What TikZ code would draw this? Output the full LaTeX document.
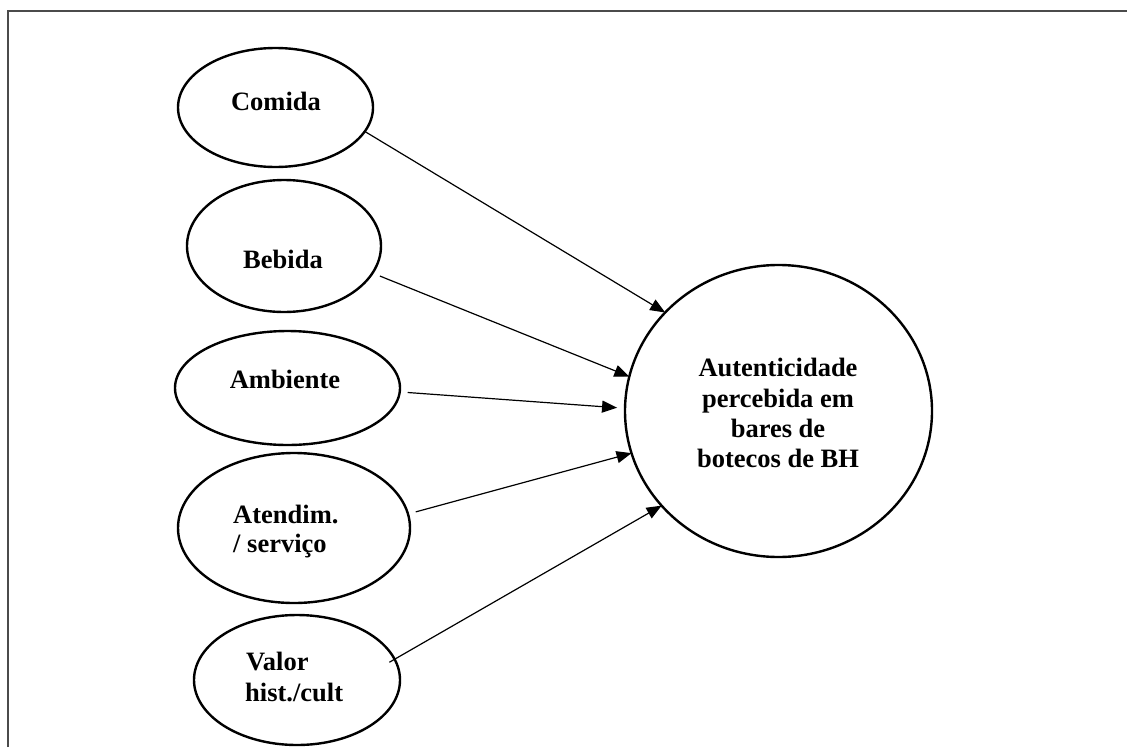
\documentclass[tikz,border=0pt]{standalone}
\usepackage{fontspec}
\setmainfont{Liberation Serif}
\usetikzlibrary{shapes.geometric,arrows.meta}
\begin{document}
\begin{tikzpicture}[x=1pt,y=-1pt,
  oval/.style={ellipse,draw,line width=2.4pt,inner sep=0pt,outer sep=0pt},
  lbl/.style={font=\fontsize{26.5}{30}\selectfont\bfseries,inner sep=0pt,anchor=base},
  lbll/.style={lbl,anchor=base west},
  arr/.style={line width=1.2pt,-{Triangle[length=15pt,width=12pt]}},
  framestyle/.style={line width=2pt,draw={rgb,255:red,75;green,75;blue,75}}]
\useasboundingbox (0,0) rectangle (1127,747);
\draw[framestyle] (8,747) -- (8,11) -- (1127,11);

% ellipses
\node[oval,minimum width=195pt,minimum height=119pt] (comida) at (275.5,107.5) {};
\node[oval,minimum width=194pt,minimum height=132pt] (bebida) at (284,246) {};
\node[oval,minimum width=225pt,minimum height=114pt] (ambiente) at (287.5,388) {};
\node[oval,minimum width=232pt,minimum height=150pt] (atend) at (294,528) {};
\node[oval,minimum width=206pt,minimum height=130pt] (valor) at (297,680) {};
\node[oval,minimum width=307pt,minimum height=292pt] (target) at (778.5,411) {};

% labels
\node[lbl] (comidaT) at (276,110) {Comida};
\node[lbl] (bebidaT) at (283,268) {Bebida};
\node[lbl] (ambienteT) at (285,388) {Ambiente};
\node[lbll] (atendT1) at (233,523) {Atendim.};
\node[lbll] (atendT2) at (233,552) {/ serviço};
\node[lbll] (valorT1) at (246,670) {Valor};
\node[lbll] (valorT2) at (245,701) {hist./cult};
\node[lbl] (targetT1) at (778,376) {Autenticidade};
\node[lbl] (targetT2) at (778,407) {percebida em};
\node[lbl] (targetT3) at (778,437) {bares de};
\node[lbl] (targetT4) at (778,467) {botecos de BH};

% arrows
\draw[arr] (comida.-15) -- (target.139.6);
\draw[arr,shorten <=8pt] (bebida.-17.4) -- (target.167.4);
\draw[arr,shorten <=8pt,shorten >=8pt] (ambiente.-2.85) -- (target.179.3);
\draw[arr,shorten <=8pt] (atend.7) -- (target.196.4);
\draw[arr,shorten <=-6pt] (valor.12.4) -- (target.219.4);
\end{tikzpicture}
\end{document}
